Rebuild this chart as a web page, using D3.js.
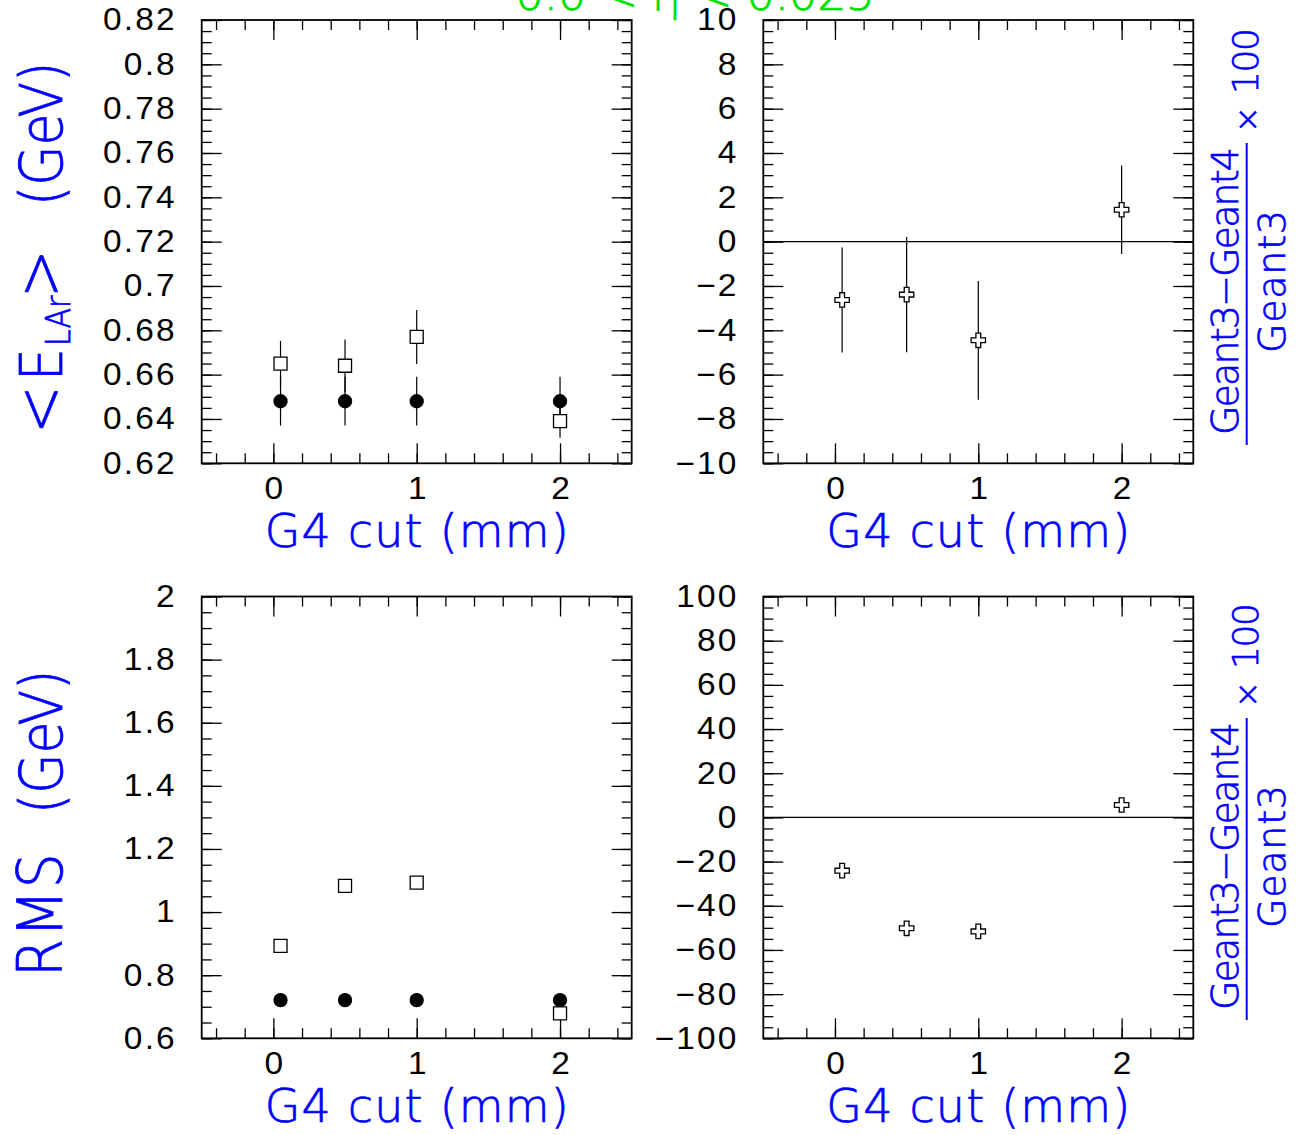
<!DOCTYPE html>
<html>
<head>
<meta charset="utf-8">
<script src="https://cdn.jsdelivr.net/npm/d3@7"></script>
<style>
  body { margin: 0; background: #fff; }
  svg { display: block; }
</style>
</head>
<body>
<svg id="chart" width="1300" height="1135"></svg>
<script>
// ---- data -------------------------------------------------------------
const cutValues = [0.05, 0.5, 1, 2];               // G4 production cut (mm)

const meanGeant3    = [0.648, 0.648, 0.648, 0.648];   // <E_LAr> (GeV)
const meanGeant3Err = [0.011, 0.011, 0.011, 0.011];
const meanGeant4    = [0.665, 0.664, 0.677, 0.639];
const meanGeant4Err = [0.0102, 0.0119, 0.0122, 0.0075];
const meanDiff      = [-2.63, -2.39, -4.45, 1.44];    // (G3-G4)/G3 x 100
const meanDiffErr   = [2.37, 2.6, 2.68, 2.0];

const rmsGeant3 = [0.721, 0.721, 0.721, 0.721];       // RMS (GeV)
const rmsGeant4 = [0.893, 1.083, 1.093, 0.679];
const rmsDiff   = [-24.1, -50.2, -51.6, 5.6];

// ---- tick labels ------------------------------------------------------
const cutTicks = [0, 1, 2];
const cutTickLabels = ["0", "1", "2"];
const meanTicks = [0.62, 0.64, 0.66, 0.68, 0.70, 0.72, 0.74, 0.76, 0.78, 0.80, 0.82];
const meanTickLabels = ["0.62", "0.64", "0.66", "0.68", "0.7", "0.72", "0.74", "0.76", "0.78", "0.8", "0.82"];
const meanDiffTicks = [-10, -8, -6, -4, -2, 0, 2, 4, 6, 8, 10];
const meanDiffTickLabels = ["\u221210", "\u22128", "\u22126", "\u22124", "\u22122", "0", "2", "4", "6", "8", "10"];
const rmsTicks = [0.6, 0.8, 1.0, 1.2, 1.4, 1.6, 1.8, 2.0];
const rmsTickLabels = ["0.6", "0.8", "1", "1.2", "1.4", "1.6", "1.8", "2"];
const rmsDiffTicks = [-100, -80, -60, -40, -20, 0, 20, 40, 60, 80, 100];
const rmsDiffTickLabels = ["\u2212100", "\u221280", "\u221260", "\u221240", "\u221220", "0", "20", "40", "60", "80", "100"];

// ---- layout -----------------------------------------------------------
const colLeft  = [201.7, 631.7];
const colRight = [763.3, 1193.3];
const rowTop    = [20, 463.3];
const rowBottom = [596.5, 1038.3];
const titleFont = "'DejaVu Sans', 'Liberation Sans', sans-serif";
const labelFont = "'Liberation Sans', Arial, sans-serif";
const blue = "#0000ff";
const labelStretch = 1.08;   // tick labels are drawn slightly wide

const svg = d3.select("#chart");
svg.append("rect").attr("width", 1300).attr("height", 1135).attr("fill", "#fff");

function steps(lo, hi, step) {
  const n = Math.round((hi - lo) / step);
  return d3.range(n + 1).map(i => lo + i * step);
}

function styleAxis(g) {
  g.select(".domain").remove();
  g.selectAll(".tick line").attr("stroke", "#000").attr("stroke-width", 1.3);
  g.attr("font-family", labelFont).attr("font-size", 31);
  g.selectAll(".tick text")
    .attr("fill", "#000")
    .attr("transform", `scale(${labelStretch},1)`)
    .style("letter-spacing", "2px");
}

// One framed panel with inward ticks on all four sides
function panel(cols, rows, yDomain, yTicks, yLabels, yMinorStep) {
  const x = d3.scaleLinear().domain([-0.5, 2.5]).range(cols);
  const y = d3.scaleLinear().domain(yDomain).range([rows[1], rows[0]]);
  const g = svg.append("g");
  const xMinor = steps(-0.4, 2.4, 0.2);
  const yMinor = steps(yDomain[0], yDomain[1], yMinorStep);

  // bottom
  g.append("g").attr("transform", `translate(0,${rows[1]})`)
    .call(d3.axisBottom(x).tickValues(xMinor).tickSize(-10).tickFormat(""))
    .call(styleAxis);
  g.append("g").attr("transform", `translate(0,${rows[1]})`)
    .call(d3.axisBottom(x).tickValues(cutTicks).tickSize(-20).tickPadding(13.5)
      .tickFormat((d, i) => cutTickLabels[i]))
    .call(styleAxis)
    .call(a => a.selectAll(".tick text").attr("dx", 1));
  // top
  g.append("g").attr("transform", `translate(0,${rows[0]})`)
    .call(d3.axisTop(x).tickValues(xMinor).tickSize(-10).tickFormat(""))
    .call(styleAxis);
  g.append("g").attr("transform", `translate(0,${rows[0]})`)
    .call(d3.axisTop(x).tickValues(cutTicks).tickSize(-20).tickFormat(""))
    .call(styleAxis);
  // left
  g.append("g").attr("transform", `translate(${cols[0]},0)`)
    .call(d3.axisLeft(y).tickValues(yMinor).tickSize(-10).tickFormat(""))
    .call(styleAxis);
  g.append("g").attr("transform", `translate(${cols[0]},0)`)
    .call(d3.axisLeft(y).tickValues(yTicks).tickSize(-20).tickPadding(23)
      .tickFormat((d, i) => yLabels[i]))
    .call(styleAxis);
  // right
  g.append("g").attr("transform", `translate(${cols[1]},0)`)
    .call(d3.axisRight(y).tickValues(yMinor).tickSize(-10).tickFormat(""))
    .call(styleAxis);
  g.append("g").attr("transform", `translate(${cols[1]},0)`)
    .call(d3.axisRight(y).tickValues(yTicks).tickSize(-20).tickFormat(""))
    .call(styleAxis);

  g.append("rect")
    .attr("x", cols[0]).attr("y", rows[0])
    .attr("width", cols[1] - cols[0]).attr("height", rows[1] - rows[0])
    .attr("fill", "none").attr("stroke", "#000").attr("stroke-width", 1.8);

  return { g, x, y };
}

function zeroLine(p) {
  p.g.append("line")
    .attr("x1", p.x.range()[0]).attr("x2", p.x.range()[1])
    .attr("y1", p.y(0)).attr("y2", p.y(0))
    .attr("stroke", "#000").attr("stroke-width", 1.3);
}

function errorBars(p, vals, errs) {
  p.g.append("g").selectAll("line").data(vals).join("line")
    .attr("x1", (d, i) => p.x(cutValues[i])).attr("x2", (d, i) => p.x(cutValues[i]))
    .attr("y1", (d, i) => p.y(d - errs[i])).attr("y2", (d, i) => p.y(d + errs[i]))
    .attr("stroke", "#000").attr("stroke-width", 1.2);
}

function markers(p, vals, type, size, fill) {
  const sym = d3.symbol().type(type).size(size);
  p.g.append("g").selectAll("path").data(vals).join("path")
    .attr("transform", (d, i) => `translate(${p.x(cutValues[i])},${p.y(d)})`)
    .attr("d", sym)
    .attr("fill", fill).attr("stroke", "#000").attr("stroke-width", 1.3);
}

const CIRCLE = 133, SQUARE = 169, CROSS = 115;

// ---- top left: mean energy ----
const pMean = panel(colLeft, rowTop, [0.62, 0.82], meanTicks, meanTickLabels, 0.005);
errorBars(pMean, meanGeant3, meanGeant3Err);
errorBars(pMean, meanGeant4, meanGeant4Err);
markers(pMean, meanGeant3, d3.symbolCircle, CIRCLE, "#000");
markers(pMean, meanGeant4, d3.symbolSquare, SQUARE, "#fff");

// ---- top right: relative difference of mean ----
const pMeanDiff = panel(colRight, rowTop, [-10, 10], meanDiffTicks, meanDiffTickLabels, 0.5);
zeroLine(pMeanDiff);
errorBars(pMeanDiff, meanDiff, meanDiffErr);
markers(pMeanDiff, meanDiff, d3.symbolCross, CROSS, "#fff");

// ---- bottom left: RMS ----
const pRms = panel(colLeft, rowBottom, [0.6, 2.0], rmsTicks, rmsTickLabels, 0.05);
markers(pRms, rmsGeant3, d3.symbolCircle, CIRCLE, "#000");
markers(pRms, rmsGeant4, d3.symbolSquare, SQUARE, "#fff");

// ---- bottom right: relative difference of RMS ----
const pRmsDiff = panel(colRight, rowBottom, [-100, 100], rmsDiffTicks, rmsDiffTickLabels, 5);
zeroLine(pRmsDiff);
markers(pRmsDiff, rmsDiff, d3.symbolCross, CROSS, "#fff");

// ---- titles ----
const titles = svg.append("g")
  .attr("font-family", titleFont).attr("font-weight", 200)
  .attr("fill", blue).attr("stroke", blue).attr("stroke-width", 0.7);

// x-axis titles
[[colLeft, rowTop], [colRight, rowTop], [colLeft, rowBottom], [colRight, rowBottom]].forEach(([c, r]) => {
  titles.append("text")
    .attr("x", (c[0] + c[1]) / 2).attr("y", r[1] + 83.4)
    .attr("text-anchor", "middle").attr("font-size", 46)
    .attr("textLength", 304).attr("lengthAdjust", "spacing")
    .text("G4 cut (mm)");
});

// left y-axis titles (rotated)
const eTitle = titles.append("text")
  .attr("transform", "translate(61.7,428) rotate(-90) scale(1,1.14)")
  .attr("font-size", 52);
eTitle.append("tspan").attr("x", -6).attr("font-size", 58).text("<");
eTitle.append("tspan").attr("x", 47).text("E");
eTitle.append("tspan").attr("x", 82).attr("dy", 7).attr("font-size", 30).text("LAr");
eTitle.append("tspan").attr("x", 130).attr("dy", -7).attr("font-size", 58).text(">");
eTitle.append("tspan").attr("x", 222).text("(GeV)");

const rTitle = titles.append("text")
  .attr("transform", "translate(61.7,973) rotate(-90) scale(1,1.12)")
  .attr("font-size", 55);
rTitle.append("tspan").attr("x", -4).style("letter-spacing", "1.5px").text("RMS");
rTitle.append("tspan").attr("x", 159).attr("font-size", 52).text("(GeV)");

// right-hand ratio titles
[294, 869].forEach(cy => {
  const f = titles.append("g").attr("transform", `translate(1246.7,${cy}) rotate(-90)`);
  f.append("line").attr("x1", -151).attr("x2", 151).attr("y1", 0).attr("y2", 0)
    .attr("stroke", blue).attr("stroke-width", 2);
  f.append("text").attr("x", 3).attr("y", -8.7).attr("text-anchor", "middle")
    .attr("font-size", 38).attr("textLength", 288).attr("lengthAdjust", "spacing")
    .text("Geant3\u2212Geant4");
  f.append("text").attr("x", 12.5).attr("y", 38.3).attr("text-anchor", "middle")
    .attr("font-size", 38).attr("textLength", 143).attr("lengthAdjust", "spacing")
    .text("Geant3");
  f.append("text").attr("x", 161).attr("y", 11.3).attr("font-size", 32).text("\u00d7");
  f.append("text").attr("x", 200).attr("y", 11.3).attr("font-size", 36)
    .attr("textLength", 66).attr("lengthAdjust", "spacing").text("100");
});

// pseudorapidity range heading (partly above the page edge)
svg.append("text")
  .attr("x", 695).attr("y", 9.5).attr("text-anchor", "middle")
  .attr("font-family", titleFont).attr("font-weight", 200)
  .attr("font-size", 46).attr("fill", "#00e000")
  .attr("stroke", "#00e000").attr("stroke-width", 0.7)
  .attr("textLength", 360).attr("lengthAdjust", "spacing")
  .text("0.0 < \u03b7 < 0.025");
</script>
</body>
</html>
